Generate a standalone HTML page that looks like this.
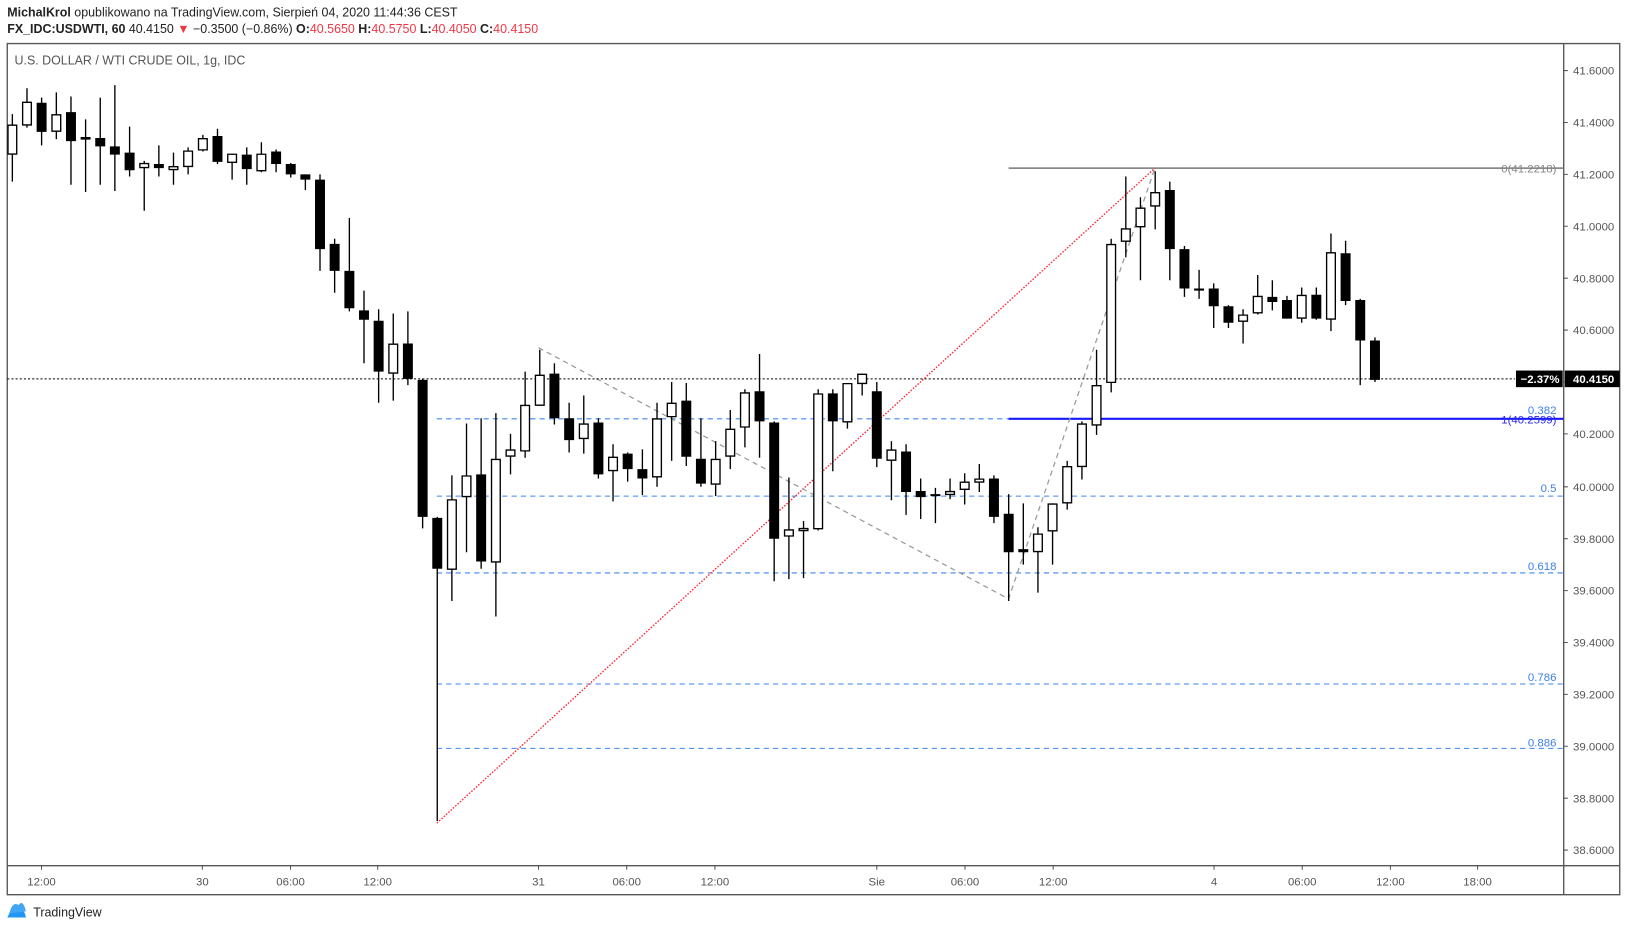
<!DOCTYPE html>
<html><head><meta charset="utf-8"><style>
html,body{margin:0;padding:0;background:#fff;width:1627px;height:930px;overflow:hidden}
svg{display:block}
text{font-family:"Liberation Sans",sans-serif}
</style></head><body>
<svg width="1627" height="930" viewBox="0 0 1568 896" preserveAspectRatio="none" xmlns="http://www.w3.org/2000/svg">
<rect width="1568" height="896" fill="#fff"/>
<!-- header -->
<text x="7" y="16" font-size="12" fill="#222"><tspan font-weight="bold">MichalKrol</tspan> opublikowano na TradingView.com, Sierpień 04, 2020 11:44:36 CEST</text>
<text x="7" y="32" font-size="12" fill="#222"><tspan font-weight="bold">FX_IDC:USDWTI, 60</tspan> 40.4150 <tspan fill="#f23645">▼</tspan> −0.3500 (−0.86%) <tspan font-weight="bold">O:</tspan><tspan fill="#f23645">40.5650</tspan> <tspan font-weight="bold">H:</tspan><tspan fill="#f23645">40.5750</tspan> <tspan font-weight="bold">L:</tspan><tspan fill="#f23645">40.4050</tspan> <tspan font-weight="bold">C:</tspan><tspan fill="#f23645">40.4150</tspan></text>
<!-- frame -->
<g stroke="#555" stroke-width="1.3" fill="none">
<path d="M7 42H1561V862H7Z"/>
<path d="M1507 42V862"/>
<path d="M7 834H1561"/>
</g>
<text x="14" y="62" font-size="12" fill="#555">U.S. DOLLAR / WTI CRUDE OIL, 1g, IDC</text>
<!-- price axis -->
<g stroke="#555" stroke-width="1">
<path d="M1507 68h4M1507 118h4M1507 168h4M1507 218h4M1507 268h4M1507 318h4M1507 368h4M1507 418h4M1507 469h4M1507 519h4M1507 569h4M1507 619h4M1507 669h4M1507 719h4M1507 769h4M1507 819h4"/>
</g>
<g font-size="11" fill="#555">
<text x="1516" y="72">41.6000</text><text x="1516" y="122">41.4000</text><text x="1516" y="172">41.2000</text><text x="1516" y="222">41.0000</text><text x="1516" y="272">40.8000</text><text x="1516" y="322">40.6000</text><text x="1516" y="422">40.2000</text><text x="1516" y="473">40.0000</text><text x="1516" y="523">39.8000</text><text x="1516" y="573">39.6000</text><text x="1516" y="623">39.4000</text><text x="1516" y="673">39.2000</text><text x="1516" y="723">39.0000</text><text x="1516" y="773">38.8000</text><text x="1516" y="823">38.6000</text>
</g>
<!-- time axis -->
<g stroke="#555" stroke-width="1"><path d="M40 834v4M195 834v4M280 834v4M364 834v4M519 834v4M604 834v4M689 834v4M845 834v4M930 834v4M1015 834v4M1170 834v4M1255 834v4M1340 834v4M1424 834v4"/></g>
<g font-size="11" fill="#555" text-anchor="middle">
<text x="40" y="853">12:00</text><text x="195" y="853">30</text><text x="280" y="853">06:00</text><text x="364" y="853">12:00</text><text x="519" y="853">31</text><text x="604" y="853">06:00</text><text x="689" y="853">12:00</text><text x="845" y="853">Sie</text><text x="930" y="853">06:00</text><text x="1015" y="853">12:00</text><text x="1170" y="853">4</text><text x="1255" y="853">06:00</text><text x="1340" y="853">12:00</text><text x="1424" y="853">18:00</text>
</g>
<!-- fib levels -->
<g stroke="#3d85f0" stroke-width="1" stroke-dasharray="5 4" fill="none">
<path d="M421 403.5H1507M421 478H1507M421 552H1507M421 659H1507M421 721H1507"/>
</g>
<path d="M972 162H1507" stroke="#777" stroke-width="1.5"/>
<path d="M972 403.5H1507" stroke="#1a1aff" stroke-width="2"/>
<g font-size="11" fill="#3d7fe8" text-anchor="end">
<text x="1500" y="399">0.382</text><text x="1500" y="474">0.5</text><text x="1500" y="549">0.618</text><text x="1500" y="656">0.786</text><text x="1500" y="719">0.886</text>
</g>
<text x="1500" y="166" font-size="11" fill="#888" text-anchor="end">0(41.2218)</text>
<text x="1500" y="408" font-size="11" fill="#2a2aee" text-anchor="end">1(40.2599)</text>
<!-- trend lines -->
<path d="M421 793L1113 162" stroke="#f23" stroke-width="1.3" stroke-dasharray="1.5 1.5" fill="none"/>
<path d="M519 335L972 577L1113 162" stroke="#999" stroke-width="1.2" stroke-dasharray="5 4" fill="none"/>
<!-- price line -->
<path d="M7 365H1460" stroke="#000" stroke-width="1" stroke-dasharray="2 2"/>
<rect x="1461" y="357" width="45" height="16" fill="#000"/>
<text x="1503" y="369" font-size="11" fill="#fff" font-weight="bold" text-anchor="end">−2.37%</text>
<rect x="1508" y="357" width="53" height="16" fill="#000"/>
<text x="1516" y="369" font-size="11" fill="#fff" font-weight="bold">40.4150</text>
<!-- wicks -->
<path stroke="#000" stroke-width="1.3" fill="none" d="M11.9 110V175M26 85V123M40.1 94V140M54.3 89V134M68.4 93V178M82.5 115V185M96.6 94V178M110.7 82V184M124.9 122V170M139 155V203M153.1 140V170M167.2 147V178M181.3 142V168M195.5 130V146M209.6 124V158M223.7 148V173M237.8 142V178M251.9 137V166M266.1 144V166M280.2 157V171M294.3 168V183M308.4 168V261M322.5 230V282M336.7 210V300M350.8 280V350M364.9 298V388M379 302V386M393.1 300V371M407.3 365V509M421.4 498V791M435.5 458V579M449.6 408V532M463.7 403V548M477.9 398V594M492 418V457M506.1 358V441M520.2 337V391M534.3 350V409M548.5 388V436M562.6 381V437M576.7 403V461M590.8 428V483M604.9 436V464M619.1 433V477M633.2 388V469M647.3 368V444M661.4 369V449M675.5 403V469M689.7 425V478M703.8 395V452M717.9 375V431M732 341V441M746.1 406V560M760.3 460V558M774.4 502V557M788.5 375V511M802.6 375V454M816.7 369V413M830.9 360V381M845 368V450M859.1 425V482M873.2 428V496M887.3 461V500M901.5 470V504M915.6 461V481M929.7 456V486M943.8 447V474M957.9 458V504M972.1 476V579M986.2 485V544M1000.3 508V571M1014.4 485V544M1028.5 444V491M1042.7 406V462M1056.8 337V419M1070.9 230V378M1085 170V248M1099.1 190V270M1113.3 165V221M1127.4 175V270M1141.5 237V286M1155.6 260V288M1169.7 273V316M1183.9 294V316M1198 298V331M1212.1 265V303M1226.2 270V299M1240.3 285V307M1254.5 277V311M1268.6 277V308M1282.7 225V319M1296.8 232V294M1310.9 288V371M1325.1 325V368"/>
<!-- black bodies -->
<path fill="#000" d="M35.3 99h9.6V127h-9.6ZM63.6 108h9.6V136h-9.6ZM77.7 132h9.6V134.5h-9.6ZM91.8 133h9.6V141h-9.6ZM105.9 141h9.6V149h-9.6ZM120.1 147h9.6V164h-9.6ZM148.3 158h9.6V162h-9.6ZM204.8 131h9.6V156h-9.6ZM233 149h9.6V163h-9.6ZM261.3 146h9.6V158h-9.6ZM275.4 158h9.6V168h-9.6ZM289.5 168h9.6V173h-9.6ZM303.6 173h9.6V240h-9.6ZM317.7 235h9.6V261h-9.6ZM331.9 261h9.6V297h-9.6ZM346 299h9.6V308h-9.6ZM360.1 309h9.6V358h-9.6ZM388.3 331h9.6V365h-9.6ZM402.5 366h9.6V498h-9.6ZM416.6 499h9.6V548h-9.6ZM458.9 457h9.6V541h-9.6ZM529.5 360h9.6V403h-9.6ZM543.7 403h9.6V424h-9.6ZM571.9 407h9.6V457h-9.6ZM600.1 437h9.6V452h-9.6ZM614.3 452h9.6V461h-9.6ZM656.6 386h9.6V440h-9.6ZM670.7 442h9.6V466h-9.6ZM727.2 377h9.6V406h-9.6ZM741.3 407h9.6V519h-9.6ZM797.8 379h9.6V406h-9.6ZM840.2 377h9.6V442h-9.6ZM868.4 435h9.6V474h-9.6ZM882.5 473h9.6V479h-9.6ZM896.7 476h9.6V478h-9.6ZM953.1 461h9.6V498h-9.6ZM967.3 495h9.6V532h-9.6ZM981.4 529h9.6V532h-9.6ZM1122.6 183h9.6V240h-9.6ZM1136.7 240h9.6V278h-9.6ZM1150.8 278h9.6V280h-9.6ZM1164.9 278h9.6V295h-9.6ZM1179.1 295h9.6V311h-9.6ZM1221.4 286h9.6V291h-9.6ZM1235.5 289h9.6V307h-9.6ZM1263.8 284h9.6V307h-9.6ZM1292 244h9.6V290h-9.6ZM1306.1 289h9.6V328h-9.6ZM1320.3 328h9.6V366h-9.6Z"/>
<!-- white bodies -->
<path fill="#fff" stroke="#000" stroke-width="1.3" d="M7.7 120.6h8.4V148.4h-8.4ZM21.8 98.6h8.4V120.4h-8.4ZM50.1 110.6h8.4V126.4h-8.4ZM134.8 157.6h8.4V161.4h-8.4ZM163 160.6h8.4V163.4h-8.4ZM177.1 145.6h8.4V160.4h-8.4ZM191.3 133.6h8.4V144.4h-8.4ZM219.5 148.6h8.4V156.4h-8.4ZM247.7 148.6h8.4V164.4h-8.4ZM374.8 331.6h8.4V359.4h-8.4ZM431.3 481.6h8.4V548.4h-8.4ZM445.4 458.6h8.4V478.4h-8.4ZM473.7 442.6h8.4V541.4h-8.4ZM487.8 433.6h8.4V439.4h-8.4ZM501.9 390.6h8.4V434.4h-8.4ZM516 361.6h8.4V390.4h-8.4ZM558.4 408.6h8.4V422.4h-8.4ZM586.6 440.6h8.4V453.4h-8.4ZM629 403.6h8.4V459.4h-8.4ZM643.1 388.6h8.4V401.4h-8.4ZM685.5 442.6h8.4V466.4h-8.4ZM699.6 413.6h8.4V439.4h-8.4ZM713.7 378.6h8.4V411.4h-8.4ZM756.1 510.6h8.4V516.4h-8.4ZM770.2 509.2h8.4V511.2h-8.4ZM784.3 379.6h8.4V509.4h-8.4ZM812.5 369.6h8.4V406.4h-8.4ZM826.7 360.6h8.4V369.4h-8.4ZM854.9 433.6h8.4V443.4h-8.4ZM911.4 473.6h8.4V476.4h-8.4ZM925.5 464.6h8.4V471.4h-8.4ZM939.6 461.6h8.4V464.4h-8.4ZM996.1 514.6h8.4V531.4h-8.4ZM1010.2 485.6h8.4V511.4h-8.4ZM1024.3 449.6h8.4V484.4h-8.4ZM1038.5 408.6h8.4V449.4h-8.4ZM1052.6 371.6h8.4V409.4h-8.4ZM1066.7 235.6h8.4V368.4h-8.4ZM1080.8 220.6h8.4V232.4h-8.4ZM1094.9 200.6h8.4V218.4h-8.4ZM1109.1 185.6h8.4V198.4h-8.4ZM1193.8 303.6h8.4V309.4h-8.4ZM1207.9 285.6h8.4V301.4h-8.4ZM1250.3 284.6h8.4V306.4h-8.4ZM1278.5 243.6h8.4V307.4h-8.4Z"/>
<!-- logo -->
<path d="M7 884L12 874L15 879L19 873L24 880L25 884Z" fill="#2196f3"/>
<path d="M9 880Q12 868 18 872Q22 866 25 878" fill="#42a5f5"/>
<text x="32" y="883" font-size="12" fill="#222">TradingView</text>
</svg>
</body></html>
